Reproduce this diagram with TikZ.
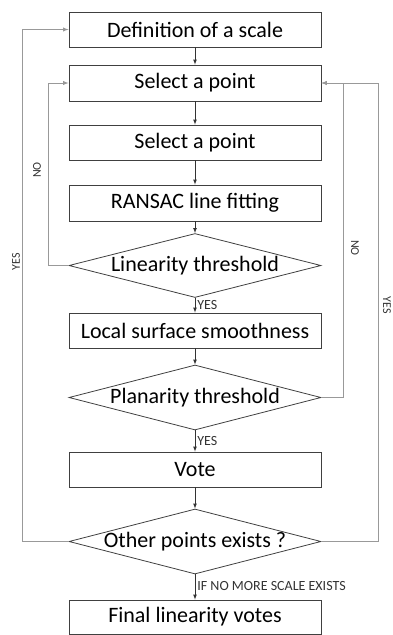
\documentclass[tikz,border=0pt]{standalone}
\usepackage{fontspec}
\setmainfont{Carlito}
\usetikzlibrary{shapes,arrows,positioning,shapes.geometric,calc}

% diamond text may overhang the outline, so it takes no width
\newcommand{\flatlabel}[1]{\makebox[0pt]{#1}}

\begin{document}
\begin{tikzpicture}[x=1pt, y=-1pt,
    block/.style={draw=black!75, line width=0.8pt, rectangle, minimum width=252pt, minimum height=35pt, inner sep=2pt, text centered, font=\fontsize{22}{24}\selectfont},
    decision/.style={draw=black!75, line width=0.8pt, diamond, aspect=4, minimum width=252pt, minimum height=64pt, inner sep=1pt, text centered, font=\fontsize{22}{24}\selectfont},
    line/.style={draw=black!80, line width=0.7pt, -latex},
    back/.style={draw=black!40, line width=0.9pt, -latex},
    tag/.style={font=\fontsize{14}{16}\selectfont, text=black!80, inner sep=2pt},
    sidetag/.style={font=\fontsize{12}{14}\selectfont, text=black!80, inner sep=0pt}
]
\useasboundingbox (0,0) rectangle (393,635);

\node[block] (scale) at (195,29.5) {Definition of a scale};
\node[block, minimum height=36pt] (first) at (195,83) {Select a point};
\node[block] (second) at (195,142.5) {Select a point};
\node[block, minimum height=36pt] (ransac) at (195,203) {RANSAC line fitting};
\node[decision] (linear) at (195,265.5) {\flatlabel{Linearity threshold}};
\node[block] (smooth) at (195,330.5) {Local surface smoothness};
\node[decision, minimum height=65pt] (planar) at (195,397.5) {\flatlabel{Planarity threshold}};
\node[block] (vote) at (195,469.5) {Vote};
\node[decision, minimum height=65pt] (others) at (195,541.5) {\flatlabel{Other points exists ?}};
\node[block, minimum height=34pt] (final) at (195,617) {Final linearity votes};

% main flow
\draw[line] (scale) -- (first);
\draw[line] (first) -- (second);
\draw[line] (second) -- (ransac);
\draw[line] (ransac) -- (linear);
\draw[line] (linear) -- node[tag, right]{YES} (smooth);
\draw[line] (smooth) -- (planar);
\draw[line] (planar) -- node[tag, right]{YES} (vote);
\draw[line] (vote) -- (others);
\draw[line] (others) -- node[tag, right, pos=0.45]{IF NO MORE SCALE EXISTS} (final);

% loops back
\draw[back] (linear.west) -- ++(-20,0) |- (first.west);
\draw[back] (others.west) -- ++(-46,0) |- (scale.west);
\draw[back] (planar.east) -- ++(22,0) |- (first.east);
\draw[back] (others.east) -- ++(57,0) |- (first.east);

\node[sidetag, rotate=90] (nol) at (37,170) {NO};
\node[sidetag, rotate=90] (yesl) at (16,262) {YES};
\node[sidetag, rotate=-90] (nor) at (355,248) {NO};
\node[sidetag, rotate=-90] (yesr) at (387,305) {YES};

\end{tikzpicture}
\end{document}
